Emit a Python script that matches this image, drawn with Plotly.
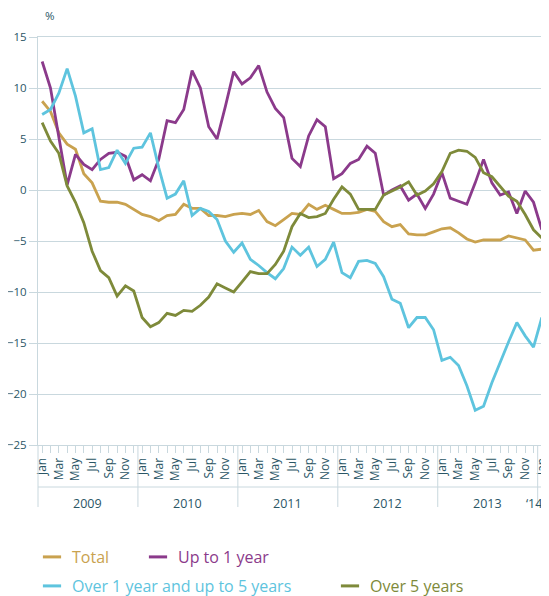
import plotly.graph_objects as go

# ---- data (monthly, Jan 2009 .. Jan 2014) ----
month_names = ["Jan", "", "Mar", "", "May", "", "Jul", "", "Sep", "", "Nov", ""]
years = ["2009", "2010", "2011", "2012", "2013", "\u201814"]

total = [8.7, 7.7, 5.6, 4.5, 4.0, 1.6, 0.7, -1.1, -1.2, -1.2, -1.4, -1.9,
         -2.4, -2.6, -3.0, -2.5, -2.4, -1.4, -1.8, -1.8, -2.5, -2.5, -2.6, -2.4,
         -2.3, -2.4, -2.0, -3.1, -3.5, -2.9, -2.3, -2.4, -1.4, -1.9, -1.5, -1.9,
         -2.3, -2.3, -2.2, -1.9, -2.1, -3.1, -3.6, -3.4, -4.3, -4.4, -4.4, -4.1,
         -3.8, -3.7, -4.2, -4.8, -5.1, -4.9, -4.9, -4.9, -4.5, -4.7, -4.9, -5.9, -5.8]

up_to_1 = [12.6, 10.0, 5.2, 0.5, 3.5, 2.5, 2.0, 3.0, 3.6, 3.7, 3.3, 1.0,
           1.5, 0.9, 3.0, 6.8, 6.6, 7.9, 11.7, 10.0, 6.2, 5.0, 8.2, 11.6,
           10.4, 11.0, 12.2, 9.6, 8.0, 7.1, 3.1, 2.3, 5.3, 6.9, 6.2, 1.1,
           1.6, 2.6, 3.0, 4.3, 3.6, -0.5, 0.0, 0.4, -1.0, -0.4, -1.8, -0.4,
           1.7, -0.8, -1.1, -1.4, 0.7, 3.0, 0.7, -0.5, -0.2, -2.3, -0.1, -1.2, -3.9]

over1_to5 = [7.4, 7.9, 9.5, 11.9, 9.2, 5.6, 6.0, 2.0, 2.2, 3.9, 2.6, 4.1,
             4.2, 5.6, 2.2, -0.8, -0.4, 0.9, -2.5, -1.8, -2.1, -2.9, -5.0, -6.1,
             -5.2, -6.8, -7.4, -8.1, -8.7, -7.7, -5.6, -6.4, -5.6, -7.5, -6.8, -5.1,
             -8.1, -8.6, -7.0, -6.9, -7.2, -8.5, -10.7, -11.1, -13.5, -12.5, -12.5, -13.7,
             -16.7, -16.4, -17.2, -19.2, -21.6, -21.2, -18.9, -16.8, -14.9, -13.0, -14.3, -15.4, -12.5]

over5 = [6.6, 4.8, 3.6, 0.4, -1.2, -3.2, -6.0, -7.9, -8.6, -10.4, -9.4, -9.9,
         -12.5, -13.4, -13.0, -12.1, -12.3, -11.8, -11.9, -11.3, -10.5, -9.2, -9.6, -10.0,
         -9.0, -8.0, -8.2, -8.2, -7.3, -6.0, -3.6, -2.3, -2.7, -2.6, -2.3, -0.9,
         0.3, -0.4, -1.9, -1.9, -1.9, -0.5, -0.1, 0.3, 0.8, -0.5, -0.1, 0.6,
         1.8, 3.6, 3.9, 3.8, 3.2, 1.7, 1.3, 0.4, -0.6, -1.1, -2.4, -3.9, -4.7]

series_names = ["Total", "Up to 1 year", "Over 1 year and up to 5 years", "Over 5 years"]
series_values = [total, up_to_1, over1_to5, over5]
series_colors = ["#c9a24f", "#8b3a8b", "#5ec4de", "#7e8a3a"]

n = len(total)
x = list(range(n))
ticktext = [month_names[i % 12] for i in x]

TXT = "#2b5666"
GRID = "#c9d8de"
FONT = "Open Sans"

# the page body adds an 8px margin, so the figure is laid out 8px smaller
OFF = 8
W, H = 549 - OFF, 596 - OFF
L, T = 38 - OFF, 37 - OFF
R = W - (546.5 - OFF)
B = H - (445 - OFF)
pw = W - L - R
ph = H - T - B

fig = go.Figure()
for name, vals, col in zip(series_names, series_values, series_colors):
    fig.add_trace(go.Scatter(x=x, y=vals, mode="lines", name=name,
                             line=dict(color=col, width=2.8),
                             showlegend=False, hoverinfo="skip"))

# legend: one single-item legend per entry, placed like the reference
legend_ids = ["legend", "legend2", "legend3", "legend4"]
legend_xy = [(32, 557), (138, 557), (32, 586), (330, 586)]  # screen px
legend_layout = {}
for name, col, lid, (lx, ly) in zip(series_names, series_colors, legend_ids, legend_xy):
    fig.add_trace(go.Scatter(x=[None], y=[None], mode="markers",
                             name=f'<span style="color:{col}">{name}</span>',
                             marker=dict(symbol="line-ew", size=13,
                                         line=dict(width=3, color=col)),
                             legend=lid, showlegend=True))
    legend_layout[lid] = dict(orientation="h", xref="container", yref="container",
                              x=(lx - OFF) / W, xanchor="left",
                              y=1 - (ly - OFF) / H, yanchor="middle",
                              font=dict(family=FONT, size=16),
                              bgcolor="rgba(0,0,0,0)", borderwidth=0,
                              itemclick=False, itemdoubleclick=False)

# year separators / labels below the axis
shapes = []
for k in range(6):
    bx = (12 * k) / n
    shapes.append(dict(type="line", xref="paper", yref="paper",
                       x0=bx, x1=bx, y0=0, y1=-62 / ph,
                       line=dict(color=GRID, width=1)))
shapes.append(dict(type="line", xref="paper", yref="paper",
                   x0=0, x1=1.004, y0=-42 / ph, y1=-42 / ph,
                   line=dict(color=GRID, width=1)))

annotations = []
year_pos = [5.5, 17.5, 29.5, 41.5, 53.5]
for yp, yt in zip(year_pos, years[:5]):
    annotations.append(dict(x=yp, xref="x", y=-58 / ph, yref="paper",
                            text=yt, showarrow=False,
                            font=dict(family=FONT, size=12.5, color=TXT),
                            xanchor="center", yanchor="middle"))
annotations.append(dict(x=0.996, xref="paper", y=-58 / ph, yref="paper",
                        text=years[5], showarrow=False,
                        font=dict(family=FONT, size=12.5, color=TXT),
                        xanchor="right", yanchor="middle"))
annotations.append(dict(x=0.01, xref="paper", y=1 + 21 / ph, yref="paper",
                        text="%", showarrow=False,
                        font=dict(family=FONT, size=11.5, color=TXT),
                        xanchor="left", yanchor="middle"))

fig.update_layout(
    width=W, height=H,
    margin=dict(l=L, r=R, t=T, b=B, pad=0, autoexpand=False),
    paper_bgcolor="white", plot_bgcolor="white",
    font=dict(family=FONT, color=TXT),
    shapes=shapes, annotations=annotations,
    **legend_layout,
)

fig.update_xaxes(range=[-0.5, n - 0.5], tickmode="array", tickvals=x,
                 ticktext=ticktext, tickangle=-90, automargin=False,
                 ticklabeloverflow="allow",
                 tickfont=dict(family=FONT, size=12, color=TXT),
                 ticks="outside", ticklen=7, tickcolor=GRID, tickwidth=1,
                 showgrid=False, showline=True, linecolor=GRID, linewidth=1,
                 mirror=True, zeroline=False, fixedrange=True)
fig.update_yaxes(range=[-25, 15], dtick=5, tick0=0, automargin=False,
                 tickfont=dict(family=FONT, size=11.5, color=TXT),
                 ticks="outside", ticklen=8, tickcolor=GRID, tickwidth=1,
                 showgrid=True, gridcolor=GRID, gridwidth=1,
                 showline=True, linecolor=GRID, linewidth=1, mirror=True,
                 zeroline=False, fixedrange=True)

fig.write_html("out.html")
